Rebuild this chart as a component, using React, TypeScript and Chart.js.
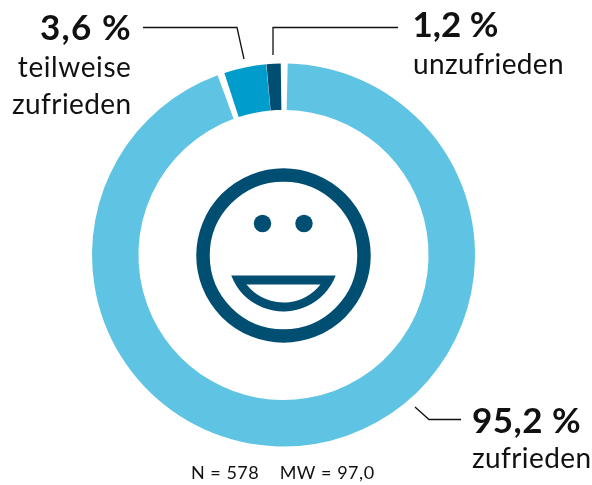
import { useEffect, useRef } from "react";
import { Chart, registerables } from "chart.js";

Chart.register(...registerables);

const categories = ["zufrieden", "teilweise zufrieden", "unzufrieden"];
const shares = [95.2, 3.6, 1.2];
const colors = ["#5fc4e3", "#009dcc", "#004f73"];
const shareLabels = ["95,2 %", "3,6 %", "1,2 %"];
const footnote = "N = 578    MW = 97,0";
const FONT = 'Lato';
const INK = "#111111";
const DARK = "#004f73";

const overlay = {
  id: "overlay",
  afterDraw(chart: any) {
    const ctx = chart.ctx as CanvasRenderingContext2D;
    const arc = chart.getDatasetMeta(0).data[0];
    const cx = arc.x;
    const cy = arc.y;
    const put = (t: string, x: number, y: number, size: number, bold: boolean, align: CanvasTextAlign, sp: number) => {
      ctx.font = `${bold ? "700 " : ""}${size}px ${FONT}`;
      ctx.textAlign = align;
      ctx.textBaseline = "alphabetic";
      (ctx as any).letterSpacing = `${sp}px`;
      ctx.fillStyle = INK;
      ctx.fillText(t, x, y);
      (ctx as any).letterSpacing = "0px";
    };
    ctx.save();
    put(shareLabels[1], 132, 40, 35, true, "right", 1.2);
    put("teilweise", 131.5, 77, 28, false, "right", 0.6);
    put("zufrieden", 131.5, 114, 28, false, "right", 0.4);
    put(shareLabels[2], 412.5, 37, 35, true, "left", 0);
    put(categories[2], 413, 74, 28, false, "left", 0.35);
    put(shareLabels[0], 472, 433, 35, true, "left", 0.5);
    put(categories[0], 472, 468, 28, false, "left", 0.4);
    put(footnote, 191, 479, 18, false, "left", 0.5);

    ctx.strokeStyle = INK;
    ctx.lineWidth = 1.3;
    const poly = (pts: number[][]) => {
      ctx.beginPath();
      pts.forEach(([dx, dy], i) => (i ? ctx.lineTo(cx + dx, cy + dy) : ctx.moveTo(cx + dx, cy + dy)));
      ctx.stroke();
    };
    poly([[-140.5, -227.5], [-46.5, -227.5], [-39.5, -196]]);
    poly([[-10.5, -200], [-10.5, -227.5], [114.5, -227.5]]);
    poly([[131.5, 152], [145.5, 164.5], [177.5, 164.5]]);

    const fy = cy + 0.5;
    ctx.strokeStyle = DARK;
    ctx.lineWidth = 13.5;
    ctx.beginPath();
    ctx.arc(cx, fy, 80.5, 0, Math.PI * 2);
    ctx.stroke();
    ctx.fillStyle = DARK;
    [-21, 20.5].forEach((dx) => {
      ctx.beginPath();
      ctx.arc(cx + dx, fy - 32, 8.7, 0, Math.PI * 2);
      ctx.fill();
    });
    const mouth = (r: number, yTop: number, fill: string) => {
      const a = Math.asin(yTop / r);
      ctx.fillStyle = fill;
      ctx.beginPath();
      ctx.arc(cx, fy, r, a, Math.PI - a);
      ctx.closePath();
      ctx.fill();
    };
    mouth(55.9, 20, DARK);
    mouth(47, 29, "#ffffff");
    ctx.restore();
  },
};

export default function App() {
  const ref = useRef<HTMLCanvasElement>(null);
  useEffect(() => {
    const chart = new Chart(ref.current!, {
      type: "doughnut",
      data: {
        labels: categories,
        datasets: [{ data: shares, backgroundColor: colors, borderWidth: 0, spacing: 4 } as any],
      },
      options: {
        responsive: false,
        animation: false,
        cutout: "75.5%",
        rotation: -0.8,
        layout: { padding: { left: 91.5, right: 116.5, top: 63.5, bottom: 38.5 } },
        plugins: { legend: { display: false }, tooltip: { enabled: false } },
      },
      plugins: [overlay],
    });
    return () => chart.destroy();
  }, []);
  return (
    <div style={{ position: "absolute", left: 0, top: 0, width: 592, height: 485 }}>
      <canvas ref={ref} width={592} height={485} style={{ display: "block" }} />
    </div>
  );
}
